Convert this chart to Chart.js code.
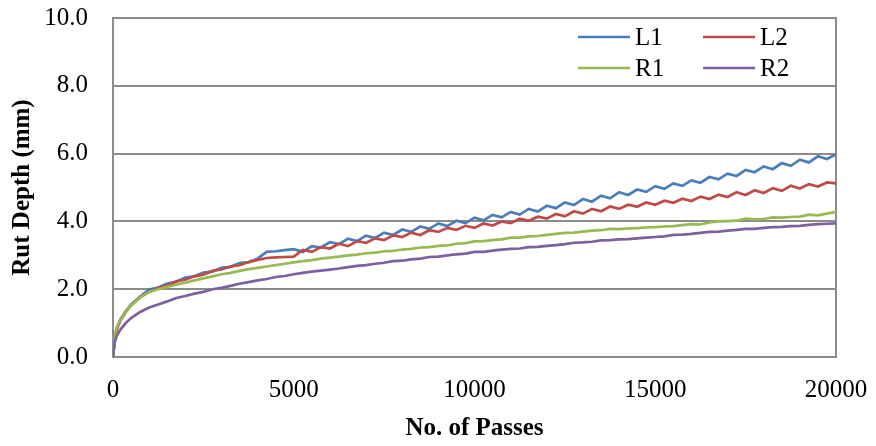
<!DOCTYPE html>
<html>
<head>
<meta charset="utf-8">
<script src="https://cdn.jsdelivr.net/npm/chart.js@4.4.0/dist/chart.umd.min.js"></script>
<style>
  body { margin: 0; background: #fff; }
  #wrap { width: 876px; height: 446px; }
</style>
</head>
<body>
<div id="wrap"><canvas id="rut" width="876" height="446"></canvas></div>
<script>
// passes (x) shared by all four series
const passes = [0, 50, 100, 200, 350, 500, 750,
  1000, 1250, 1500, 1750, 2000, 2250, 2500, 2750, 3000, 3250, 3500, 3750,
  4000, 4250, 4500, 4750, 5000, 5250, 5500, 5750, 6000, 6250, 6500, 6750,
  7000, 7250, 7500, 7750, 8000, 8250, 8500, 8750, 9000, 9250, 9500, 9750,
  10000, 10250, 10500, 10750, 11000, 11250, 11500, 11750, 12000, 12250, 12500, 12750,
  13000, 13250, 13500, 13750, 14000, 14250, 14500, 14750, 15000, 15250, 15500, 15750,
  16000, 16250, 16500, 16750, 17000, 17250, 17500, 17750, 18000, 18250, 18500, 18750,
  19000, 19250, 19500, 19750, 20000];

const L1 = [0, 0.6, 0.85, 1.1, 1.35, 1.55, 1.78,
  1.99, 2.05, 2.17, 2.22, 2.34, 2.38, 2.49, 2.52, 2.63, 2.66, 2.77, 2.8,
  2.9, 3.1, 3.12, 3.15, 3.18, 3.1, 3.27, 3.23, 3.39, 3.33, 3.49, 3.42,
  3.58, 3.51, 3.67, 3.6, 3.76, 3.69, 3.85, 3.78, 3.94, 3.86, 4.02, 3.95,
  4.11, 4.03, 4.19, 4.12, 4.28, 4.2, 4.37, 4.29, 4.46, 4.39, 4.56, 4.48,
  4.66, 4.58, 4.76, 4.68, 4.86, 4.78, 4.94, 4.87, 5.04, 4.96, 5.12, 5.05,
  5.21, 5.14, 5.31, 5.24, 5.41, 5.34, 5.52, 5.45, 5.62, 5.54, 5.72, 5.64,
  5.82, 5.74, 5.92, 5.84, 5.98];

const L2 = [0, 0.55, 0.8, 1.07, 1.32, 1.52, 1.76,
  1.92, 2.04, 2.11, 2.23, 2.28, 2.38, 2.43, 2.54, 2.58, 2.67, 2.71, 2.8,
  2.86, 2.92, 2.94, 2.95, 2.96, 3.16, 3.1, 3.24, 3.2, 3.34, 3.27, 3.42,
  3.37, 3.5, 3.45, 3.59, 3.54, 3.67, 3.6, 3.74, 3.69, 3.81, 3.75, 3.87,
  3.81, 3.94, 3.88, 4.0, 3.95, 4.08, 4.02, 4.14, 4.08, 4.22, 4.15, 4.3,
  4.23, 4.37, 4.3, 4.44, 4.37, 4.49, 4.43, 4.56, 4.49, 4.61, 4.55, 4.67,
  4.6, 4.73, 4.66, 4.79, 4.72, 4.86, 4.78, 4.92, 4.84, 4.98, 4.9, 5.05,
  4.97, 5.1, 5.03, 5.15, 5.12];

const R1 = [0, 0.6, 0.86, 1.09, 1.33, 1.52, 1.77,
  1.92, 2.0, 2.07, 2.13, 2.19, 2.26, 2.32, 2.38, 2.44, 2.48, 2.54, 2.59,
  2.63, 2.67, 2.71, 2.75, 2.79, 2.83, 2.86, 2.9, 2.93, 2.96, 3.0, 3.02,
  3.06, 3.08, 3.12, 3.13, 3.17, 3.19, 3.23, 3.24, 3.28, 3.29, 3.34, 3.36,
  3.41, 3.42, 3.45, 3.47, 3.52, 3.52, 3.56, 3.57, 3.6, 3.63, 3.66, 3.67,
  3.7, 3.73, 3.74, 3.78, 3.77, 3.79, 3.8, 3.82, 3.83, 3.85, 3.86, 3.89,
  3.92, 3.91, 3.97, 4.0, 4.01, 4.02, 4.08, 4.06, 4.07, 4.12, 4.11, 4.13,
  4.14, 4.2, 4.18, 4.23, 4.28];

const R2 = [0, 0.45, 0.62, 0.8, 1.0, 1.15, 1.33,
  1.46, 1.55, 1.64, 1.74, 1.8, 1.87, 1.92, 2.0, 2.04, 2.1, 2.16, 2.21,
  2.26, 2.3, 2.36, 2.39, 2.44, 2.48, 2.52, 2.55, 2.58, 2.61, 2.65, 2.69,
  2.71, 2.75, 2.78, 2.83, 2.84, 2.88, 2.9, 2.95, 2.96, 3.0, 3.03, 3.05,
  3.1, 3.1, 3.14, 3.17, 3.19, 3.2, 3.24, 3.25, 3.28, 3.3, 3.33, 3.37,
  3.38, 3.4, 3.44, 3.45, 3.47, 3.48, 3.5, 3.52, 3.54, 3.56, 3.6, 3.61,
  3.63, 3.66, 3.69, 3.7, 3.73, 3.75, 3.78, 3.78, 3.81, 3.83, 3.84, 3.86,
  3.87, 3.9, 3.92, 3.93, 3.94];

const seriesNames = ['L1', 'L2', 'R1', 'R2'];
const seriesColors = ['#4a7ebb', '#be4b48', '#98b954', '#7d60a0'];

const serif = "'Liberation Serif', 'Times New Roman', serif";
const gridGray = '#8c8c8c';

function toPoints(ys) {
  return passes.map((p, i) => ({ x: p, y: ys[i] }));
}

// box round the plot area
const frame = {
  id: 'frame',
  beforeDatasetsDraw(chart) {
    const a = chart.chartArea;
    const ctx = chart.ctx;
    ctx.save();
    ctx.strokeStyle = gridGray;
    ctx.lineWidth = 2;
    ctx.strokeRect(a.left, a.top, a.right - a.left, a.bottom - a.top);
    ctx.restore();
  }
};

// two-column legend sitting inside the plot, top right
const insideLegend = {
  id: 'insideLegend',
  afterDraw(chart) {
    const ctx = chart.ctx;
    const cols = [578, 703];
    const rows = [37, 68];
    ctx.save();
    ctx.font = '25px ' + serif;
    ctx.textBaseline = 'middle';
    ctx.fillStyle = '#000';
    chart.data.datasets.forEach((ds, i) => {
      const x = cols[i % 2], y = rows[Math.floor(i / 2)];
      ctx.strokeStyle = ds.borderColor;
      ctx.lineWidth = 2.5;
      ctx.beginPath();
      ctx.moveTo(x, y);
      ctx.lineTo(x + 52, y);
      ctx.stroke();
      ctx.fillText(ds.label, x + 57, y + 1);
    });
    ctx.restore();
  }
};

const allSeries = [L1, L2, R1, R2];
const datasets = allSeries.map((ys, i) => ({
  label: seriesNames[i],
  data: toPoints(ys),
  borderColor: seriesColors[i],
  borderWidth: 2.7,
  pointRadius: 0,
  tension: 0,
  fill: false,
  order: 4 - i
}));

new Chart(document.getElementById('rut').getContext('2d'), {
  type: 'line',
  data: { datasets: datasets },
  options: {
    responsive: false,
    animation: false,
    layout: { padding: { top: 18, right: 40, left: 0, bottom: 0 } },
    plugins: {
      legend: { display: false },
      tooltip: { enabled: false }
    },
    scales: {
      x: {
        type: 'linear',
        min: 0,
        max: 20000,
        afterFit: s => {
          s.height = 89;
          s.paddingLeft = 0;
          s.paddingRight = 0;
        },
        ticks: {
          stepSize: 5000,
          color: '#000',
          padding: 10,
          maxRotation: 0,
          font: { family: serif, size: 25 },
          callback: v => String(v)
        },
        grid: { display: false },
        border: { display: false },
        title: {
          display: true,
          text: 'No. of Passes',
          color: '#000',
          padding: { top: 4, bottom: 2 },
          font: { family: serif, size: 25, weight: 'bold' }
        }
      },
      y: {
        min: 0,
        max: 10,
        afterFit: s => {
          s.width = 113;
          s.paddingTop = 0;
          s.paddingBottom = 0;
        },
        ticks: {
          stepSize: 2,
          color: '#000',
          padding: 25,
          font: { family: serif, size: 25 },
          callback: v => v.toFixed(1)
        },
        grid: { color: gridGray, lineWidth: 2, drawTicks: false },
        border: { display: false },
        title: {
          display: true,
          text: 'Rut Depth (mm)',
          color: '#000',
          padding: { top: 8, bottom: 0 },
          font: { family: serif, size: 25, weight: 'bold' }
        }
      }
    }
  },
  plugins: [frame, insideLegend]
});
</script>
</body>
</html>
